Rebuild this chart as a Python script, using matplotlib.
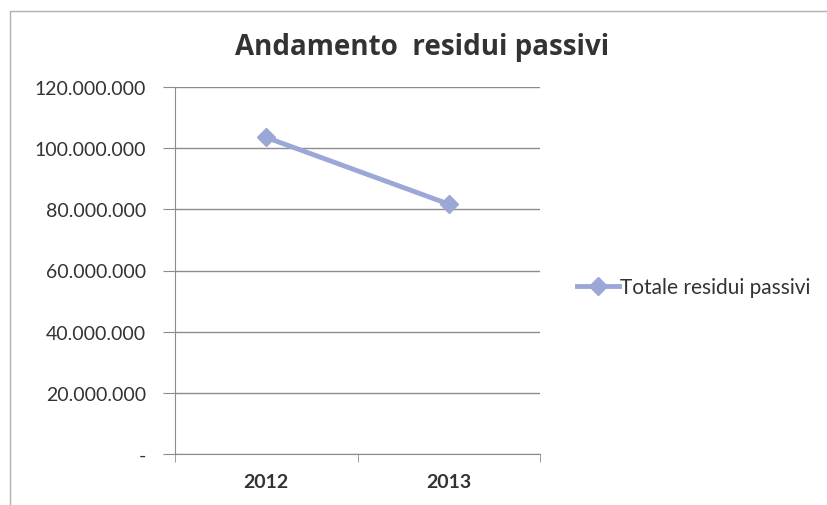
import matplotlib
matplotlib.use("Agg")
import matplotlib.pyplot as plt
from matplotlib.patches import Rectangle

# Chart data
years = ["2012", "2013"]
residui = [103500000, 81700000]
y_ticks = [0, 20000000, 40000000, 60000000, 80000000, 100000000, 120000000]
y_labels = ["-", "20.000.000", "40.000.000", "60.000.000", "80.000.000", "100.000.000", "120.000.000"]

line_color = "#9ba7d6"
grid_color = "#8c8c8c"
text_color = "#333333"

fig = plt.figure(figsize=(8.27, 5.06), dpi=100)
ax = fig.add_axes([175 / 827, 1 - 455 / 506, 365 / 827, 367 / 506])

x = [0.5, 1.5]
ax.plot(x, residui, color=line_color, linewidth=3.5, marker="D", markersize=9,
        label="Totale residui passivi", zorder=3)

ax.set_xlim(0, 2)
ax.set_ylim(0, 120000000)
ax.set_yticks(y_ticks)
ax.set_yticklabels(y_labels, fontsize=14, family="Lato", color=text_color)
ax.set_xticks(x)
ax.set_xticklabels(years, fontsize=14, family="Lato", fontweight="bold", color=text_color)
ax.set_xticks([0, 1, 2], minor=True)
ax.tick_params(axis="x", which="major", length=0, pad=14)
ax.tick_params(axis="x", which="minor", length=6, color=grid_color, direction="out")
ax.tick_params(axis="y", length=9, color=grid_color, pad=12)

ax.yaxis.grid(True, color=grid_color, linewidth=1)
ax.set_axisbelow(True)
for side in ["top", "right"]:
    ax.spines[side].set_visible(False)
for side in ["left", "bottom"]:
    ax.spines[side].set_color(grid_color)

fig.text(422 / 827, 1 - 47 / 506, "Andamento  residui passivi", fontsize=20, fontweight="bold",
         family="Open Sans", color=text_color, ha="center", va="center")

leg = ax.legend(loc="center left", bbox_to_anchor=(1.05, 0.455), frameon=False,
                prop={"family": "Lato", "size": 15}, handlelength=2.0, handletextpad=0.05)
for t in leg.get_texts():
    t.set_color(text_color)

# outer chart border
fig.patches.append(Rectangle((10 / 827, -0.01), 1, 1 - 12 / 506 + 0.01, transform=fig.transFigure,
                             fill=False, edgecolor="#b0b0b0", linewidth=1))

plt.savefig("out.png", dpi=100)
